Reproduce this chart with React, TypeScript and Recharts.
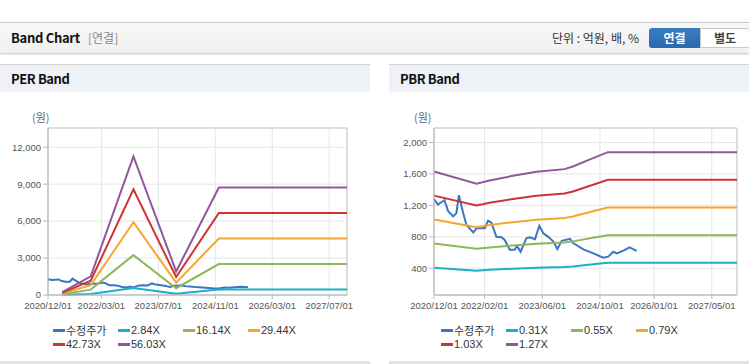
import React from 'react';
import { LineChart, Line, XAxis, YAxis, CartesianGrid, ReferenceArea } from 'recharts';

// x values are months counted from 2020/12/01
const priceMonths = [0, 1.1, 2, 2.9, 3.9, 5.3, 6.2, 6.9, 8.1, 9, 10.9, 11.8, 14.1, 15, 15.9, 17.3, 18.7, 19.6, 21, 22.4, 23, 24, 25.6, 26.6, 28, 29.2, 30.3, 31.7, 33.1, 34.2, 35.4, 37.7, 38.6, 41.4, 44.2, 46.9, 48.3, 49.7, 50.7, 52.5, 54.2, 56.2];
const priceValues = [1280, 1210, 1240, 1265, 1130, 1060, 1100, 1330, 1100, 950, 855, 910, 910, 1005, 980, 800, 795, 760, 635, 635, 685, 610, 780, 795, 770, 940, 845, 800, 740, 645, 750, 775, 720, 640, 590, 535, 548, 610, 590, 625, 665, 620];

const perBandMonths = [4, 12, 24, 36, 48, 84];
const per284 = [11, 77, 570, 97, 442, 442];
const per1614 = [65, 436, 3239, 552, 2515, 2515];
const per2944 = [118, 795, 5909, 1007, 4587, 4587];
const per4273 = [171, 1154, 8576, 1461, 6657, 6657];
const per5603 = [224, 1513, 11245, 1916, 8730, 8730];

const pbrBandMonths = [0, 11.8, 15.4, 21.9, 28.4, 36.2, 38.5, 44.1, 48.2, 84];
const pbr031 = [408, 370, 381, 395, 408, 416, 424, 450, 469, 469];
const pbr055 = [714, 647, 665, 691, 713, 727, 742, 788, 821, 821];
const pbr079 = [1019, 923, 949, 986, 1017, 1039, 1059, 1126, 1173, 1173];
const pbr103 = [1324, 1199, 1232, 1281, 1322, 1350, 1377, 1463, 1525, 1525];
const pbr127 = [1630, 1474, 1516, 1576, 1627, 1661, 1694, 1801, 1877, 1877];

const perXTicks = [0, 15, 31, 47, 63, 79];
const perXLabels = ['2020/12/01', '2022/03/01', '2023/07/01', '2024/11/01', '2026/03/01', '2027/07/01'];
const perYTicks = [0, 3000, 6000, 9000, 12000];

const pbrXTicks = [0, 14, 30, 46, 61, 77];
const pbrXLabels = ['2020/12/01', '2022/02/01', '2023/06/01', '2024/10/01', '2026/01/01', '2027/05/01'];
const pbrYTicks = [400, 800, 1200, 1600, 2000];

const COLORS = ['#3a76c4', '#1ab0c6', '#8fb65a', '#f5a631', '#cf3431', '#8f579d'];

const toPoints = (months: number[], values: number[]) => months.map((m, i) => ({ m, v: values[i] }));

const perSeries = [
  { name: '수정주가', data: toPoints(priceMonths, priceValues) },
  { name: '2.84X', data: toPoints(perBandMonths, per284) },
  { name: '16.14X', data: toPoints(perBandMonths, per1614) },
  { name: '29.44X', data: toPoints(perBandMonths, per2944) },
  { name: '42.73X', data: toPoints(perBandMonths, per4273) },
  { name: '56.03X', data: toPoints(perBandMonths, per5603) },
];

const pbrSeries = [
  { name: '수정주가', data: toPoints(priceMonths, priceValues) },
  { name: '0.31X', data: toPoints(pbrBandMonths, pbr031) },
  { name: '0.55X', data: toPoints(pbrBandMonths, pbr055) },
  { name: '0.79X', data: toPoints(pbrBandMonths, pbr079) },
  { name: '1.03X', data: toPoints(pbrBandMonths, pbr103) },
  { name: '1.27X', data: toPoints(pbrBandMonths, pbr127) },
];

const tickFont = { fontSize: 9.5, fill: '#555', fontFamily: '"Liberation Sans", Arial, sans-serif' };
const korFont = '"Noto Sans CJK KR", "Noto Sans", sans-serif';

interface PanelProps {
  title: string;
  left: number;
  width: number;
  chartLeft: number;
  chartWidth: number;
  margin: { top: number; right: number; bottom: number; left: number };
  yAxisWidth: number;
  yDomain: [number, number];
  yTicks: number[];
  xTicks: number[];
  xLabels: string[];
  series: { name: string; data: { m: number; v: number }[] }[];
  unitLeft: number;
  legendLeft: number;
}

const BandPanel: React.FC<PanelProps> = (p) => (
  <>
    {/* panel header */}
    <div style={{ position: 'absolute', left: p.left, top: 64, width: p.width, height: 28, background: '#eef1f6', borderTop: '1px solid #d3d3d3', fontFamily: korFont, fontWeight: 700, fontSize: 13, letterSpacing: -0.4, color: '#111', lineHeight: '28px', paddingLeft: 11, boxSizing: 'border-box' }}>
      {p.title}
    </div>
    <div style={{ position: 'absolute', left: p.unitLeft, top: 109, fontSize: 11, color: '#666', fontFamily: korFont }}>(원)</div>
    <div style={{ position: 'absolute', left: p.chartLeft, top: 100 }}>
      <LineChart width={p.chartWidth} height={220} margin={p.margin}>
        <CartesianGrid stroke="#e6e6e6" />
        <XAxis
          type="number"
          dataKey="m"
          domain={[0, 84]}
          ticks={p.xTicks}
          tickFormatter={(v: number) => p.xLabels[p.xTicks.indexOf(v)]}
          height={20}
          tickSize={4}
          tickMargin={3}
          interval={0}
          stroke="#bbb"
          tick={tickFont}
          allowDecimals
        />
        <YAxis
          type="number"
          domain={p.yDomain}
          ticks={p.yTicks}
          width={p.yAxisWidth}
          tickSize={5}
          stroke="#bbb"
          tick={tickFont}
          interval={0}
          tickFormatter={(v: number) => v.toLocaleString('en-US')}
        />
        <ReferenceArea x1={0} x2={84} y1={p.yDomain[0]} y2={p.yDomain[1]} fill="none" stroke="#c8c8c8" />
        {p.series.map((s, i) => (
          <Line
            key={s.name}
            data={s.data}
            dataKey="v"
            name={s.name}
            type="linear"
            stroke={COLORS[i]}
            strokeWidth={2}
            dot={false}
            activeDot={false}
            isAnimationActive={false}
          />
        ))}
      </LineChart>
    </div>
    {/* legend */}
    <div style={{ position: 'absolute', left: p.legendLeft, top: 323, width: 262, display: 'flex', flexWrap: 'wrap', fontFamily: '"Liberation Sans", Arial, "Noto Sans CJK KR", sans-serif', fontSize: 11, color: '#333' }}>
      {p.series.map((s, i) => (
        <div key={s.name} style={{ width: 65, height: 14, display: 'flex', alignItems: 'center' }}>
          <span style={{ display: 'inline-block', width: 12, height: 3, background: COLORS[i], marginRight: 1 }} />
          <span>{s.name}</span>
        </div>
      ))}
    </div>
    <div style={{ position: 'absolute', left: p.left, top: 361, width: p.width, height: 3, background: '#e2e2e2' }} />
  </>
);

export default function App() {
  return (
    <div style={{ position: 'absolute', left: 0, top: 0, width: 749, height: 364, background: '#fff', overflow: 'hidden' }}>
      {/* top bar */}
      <div style={{ position: 'absolute', left: 0, top: 22, width: 749, height: 30, background: 'linear-gradient(#f7f7f7, #f1f1f1)', borderTop: '1px solid #c6c6c6', boxShadow: '0 1px 2px rgba(0,0,0,0.25)', fontFamily: korFont }}>
        <span style={{ position: 'absolute', left: 11, top: 5, fontSize: 13, letterSpacing: -0.3, fontWeight: 700, color: '#111' }}>Band Chart</span>
        <span style={{ position: 'absolute', left: 88, top: 6, fontSize: 12, color: '#888' }}>[연결]</span>
        <span style={{ position: 'absolute', left: 552, top: 6, fontSize: 12, color: '#333' }}>단위 : 억원, 배, %</span>
        <div style={{ position: 'absolute', left: 649, top: 5, width: 51, height: 20, background: 'linear-gradient(#3a7dc4, #2b68ad)', borderRadius: '3px 0 0 3px', color: '#fff', fontWeight: 700, fontSize: 12, textAlign: 'center', lineHeight: '20px' }}>연결</div>
        <div style={{ position: 'absolute', left: 700, top: 5, width: 48, height: 18, background: '#fff', border: '1px solid #c8c8c8', borderRadius: '0 3px 3px 0', color: '#444', fontWeight: 700, fontSize: 12, textAlign: 'center', lineHeight: '18px' }}>별도</div>
      </div>
      <BandPanel
        title="PER Band"
        left={0}
        width={370}
        chartLeft={0}
        chartWidth={370}
        margin={{ top: 28, right: 23, bottom: 5, left: 8 }}
        yAxisWidth={40}
        yDomain={[0, 13560]}
        yTicks={perYTicks}
        xTicks={perXTicks}
        xLabels={perXLabels}
        series={perSeries}
        unitLeft={32}
        legendLeft={53}
      />
      <BandPanel
        title="PBR Band"
        left={389}
        width={360}
        chartLeft={380}
        chartWidth={369}
        margin={{ top: 28, right: 12, bottom: 5, left: 10 }}
        yAxisWidth={44}
        yDomain={[60, 2184]}
        yTicks={pbrYTicks}
        xTicks={pbrXTicks}
        xLabels={pbrXLabels}
        series={pbrSeries}
        unitLeft={414}
        legendLeft={441}
      />
    </div>
  );
}
